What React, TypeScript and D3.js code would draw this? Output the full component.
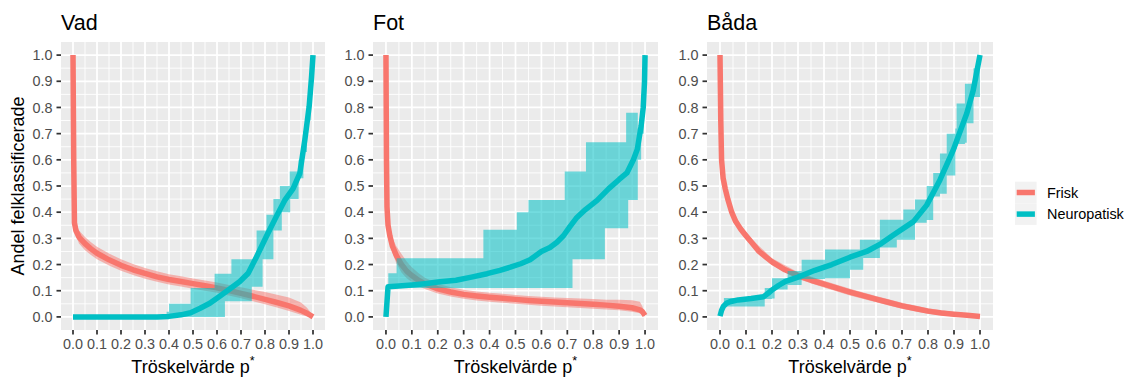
import * as d3 from 'd3';

type Pt = [number, number];
type Band = [number, number, number];

// facets, series and axis labels
const panelTitles = ['Vad', 'Fot', 'Båda'];
const seriesNames = ['Frisk', 'Neuropatisk'];
const seriesColours = ['#F8766D', '#00BFC4'];
const tickValues = [0, 0.1, 0.2, 0.3, 0.4, 0.5, 0.6, 0.7, 0.8, 0.9, 1.0];
const tickLabels = ['0.0', '0.1', '0.2', '0.3', '0.4', '0.5', '0.6', '0.7', '0.8', '0.9', '1.0'];
const minorValues = [0.05, 0.15, 0.25, 0.35, 0.45, 0.55, 0.65, 0.75, 0.85, 0.95];
const xTitle = 'Tröskelvärde p';
const yTitle = 'Andel felklassificerade';

// Vad
const vadFrisk: Pt[] = [
  [0, 1.0], [0.003, 0.6], [0.006, 0.36], [0.012, 0.33], [0.025, 0.305], [0.05, 0.28],
  [0.075, 0.26], [0.1, 0.243], [0.15, 0.218], [0.2, 0.197], [0.25, 0.18], [0.3, 0.166],
  [0.35, 0.153], [0.4, 0.143], [0.45, 0.135], [0.5, 0.127], [0.55, 0.119], [0.6, 0.111],
  [0.65, 0.101], [0.7, 0.09], [0.75, 0.079], [0.8, 0.067], [0.85, 0.055], [0.9, 0.042],
  [0.95, 0.025], [0.975, 0.014], [1.0, 0.0],
];
const vadFriskBand: Band[] = [
  [0.008, 0.32, 0.37], [0.025, 0.28, 0.33], [0.05, 0.255, 0.305], [0.075, 0.236, 0.285],
  [0.1, 0.22, 0.268], [0.15, 0.196, 0.242], [0.2, 0.176, 0.22], [0.25, 0.16, 0.202],
  [0.3, 0.146, 0.187], [0.35, 0.134, 0.174], [0.4, 0.124, 0.163], [0.45, 0.116, 0.155],
  [0.5, 0.108, 0.147], [0.55, 0.1, 0.139], [0.6, 0.092, 0.131], [0.65, 0.082, 0.122],
  [0.7, 0.071, 0.113], [0.75, 0.06, 0.104], [0.8, 0.048, 0.095], [0.85, 0.036, 0.085],
  [0.9, 0.023, 0.074], [0.95, 0.008, 0.055], [0.975, 0.002, 0.035], [1.0, 0, 0.005],
];
const vadNeuro: Pt[] = [
  [0, 0], [0.35, 0], [0.4, 0.002], [0.45, 0.008], [0.49, 0.016], [0.53, 0.033],
  [0.57, 0.052], [0.61, 0.078], [0.65, 0.105], [0.695, 0.135], [0.73, 0.167],
  [0.765, 0.23], [0.806, 0.308], [0.848, 0.385], [0.882, 0.445], [0.917, 0.49],
  [0.945, 0.548], [0.966, 0.676], [0.984, 0.804], [0.994, 0.917], [1.0, 1.0],
];
const vadNeuroBand: Band[] = [
  [0.39, 0, 0.02], [0.4, 0, 0.05], [0.49, 0, 0.11], [0.59, 0, 0.165], [0.633, 0.06, 0.165],
  [0.66, 0.06, 0.22], [0.745, 0.115, 0.22], [0.765, 0.115, 0.33], [0.79, 0.22, 0.33],
  [0.806, 0.22, 0.39], [0.835, 0.33, 0.45], [0.862, 0.33, 0.5], [0.87, 0.4, 0.5],
  [0.903, 0.4, 0.555], [0.905, 0.45, 0.555], [0.94, 0.53, 0.6], [0.96, 0.63, 0.71],
  [0.975, 0.75, 0.83], [0.99, 0.9, 0.95], [1.0, 1.0, 1.0],
];

// Fot
const fotFrisk: Pt[] = [
  [0, 1.0], [0.002, 0.6], [0.004, 0.42], [0.008, 0.35], [0.015, 0.31], [0.025, 0.27],
  [0.04, 0.235], [0.06, 0.2], [0.08, 0.175], [0.1, 0.158], [0.125, 0.14], [0.15, 0.127],
  [0.2, 0.107], [0.25, 0.095], [0.3, 0.086], [0.35, 0.08], [0.4, 0.075], [0.45, 0.071],
  [0.5, 0.067], [0.55, 0.063], [0.6, 0.06], [0.65, 0.057], [0.7, 0.054], [0.75, 0.051],
  [0.8, 0.048], [0.85, 0.045], [0.9, 0.041], [0.95, 0.035], [0.98, 0.027], [0.99, 0.02],
  [1.0, 0.005],
];
const fotFriskBand: Band[] = [
  [0.008, 0.33, 0.38], [0.015, 0.285, 0.34], [0.025, 0.245, 0.3], [0.04, 0.205, 0.27],
  [0.06, 0.17, 0.24], [0.08, 0.148, 0.212], [0.1, 0.133, 0.19], [0.125, 0.118, 0.168],
  [0.15, 0.107, 0.15], [0.2, 0.089, 0.127], [0.25, 0.078, 0.113], [0.3, 0.069, 0.104],
  [0.35, 0.063, 0.097], [0.4, 0.058, 0.092], [0.45, 0.054, 0.088], [0.5, 0.05, 0.084],
  [0.55, 0.046, 0.08], [0.6, 0.043, 0.077], [0.65, 0.04, 0.074], [0.7, 0.037, 0.072],
  [0.75, 0.034, 0.07], [0.8, 0.031, 0.068], [0.85, 0.028, 0.066], [0.9, 0.025, 0.066],
  [0.95, 0.02, 0.064], [0.98, 0.014, 0.058], [0.99, 0.008, 0.04], [1.0, 0.002, 0.01],
];
const fotNeuro: Pt[] = [
  [0, 0], [0.008, 0.115], [0.05, 0.118], [0.1, 0.122], [0.15, 0.127], [0.2, 0.133],
  [0.27, 0.14], [0.33, 0.152], [0.39, 0.165], [0.44, 0.178], [0.48, 0.19], [0.52, 0.203],
  [0.556, 0.218], [0.6, 0.25], [0.633, 0.265], [0.66, 0.285], [0.685, 0.31], [0.71, 0.345],
  [0.737, 0.38], [0.77, 0.41], [0.815, 0.445], [0.86, 0.49], [0.9, 0.525], [0.93, 0.55],
  [0.955, 0.6], [0.97, 0.64], [0.985, 0.73], [0.993, 0.8], [0.998, 0.9], [1.0, 1.0],
];
const fotNeuroBand: Band[] = [
  [0.009, 0.11, 0.167], [0.041, 0.11, 0.224], [0.376, 0.11, 0.333], [0.505, 0.11, 0.4],
  [0.55, 0.11, 0.447], [0.69, 0.11, 0.555], [0.72, 0.22, 0.555], [0.772, 0.22, 0.667],
  [0.845, 0.339, 0.667], [0.927, 0.339, 0.78], [0.935, 0.447, 0.78], [0.972, 0.6, 0.72],
  [0.985, 0.7, 0.85], [0.995, 0.85, 1.0], [1.0, 1.0, 1.0],
];

// Båda
const badaFrisk: Pt[] = [
  [0, 1.0], [0.003, 0.75], [0.006, 0.6], [0.012, 0.53], [0.02, 0.49], [0.03, 0.45],
  [0.045, 0.4], [0.06, 0.365], [0.08, 0.335], [0.1, 0.31], [0.125, 0.28], [0.15, 0.25],
  [0.2, 0.21], [0.25, 0.18], [0.3, 0.158], [0.35, 0.14], [0.4, 0.125], [0.45, 0.11],
  [0.5, 0.095], [0.55, 0.081], [0.6, 0.068], [0.65, 0.055], [0.7, 0.042], [0.75, 0.032],
  [0.8, 0.022], [0.85, 0.015], [0.9, 0.01], [0.95, 0.006], [1.0, 0.002],
];
const badaFriskBand: Band[] = [
  [0.006, 0.585, 0.615], [0.02, 0.475, 0.505], [0.045, 0.385, 0.415], [0.08, 0.32, 0.35],
  [0.125, 0.266, 0.295], [0.2, 0.197, 0.224], [0.3, 0.145, 0.171], [0.4, 0.112, 0.138],
  [0.5, 0.082, 0.108], [0.6, 0.056, 0.08], [0.7, 0.031, 0.054], [0.8, 0.012, 0.033],
  [0.9, 0.002, 0.019], [1.0, 0, 0.007],
];
const badaNeuro: Pt[] = [
  [0, 0.003], [0.006, 0.025], [0.013, 0.04], [0.025, 0.052], [0.038, 0.058], [0.07, 0.065],
  [0.12, 0.07], [0.167, 0.077], [0.185, 0.09], [0.2, 0.103], [0.225, 0.12], [0.25, 0.135],
  [0.3, 0.152], [0.365, 0.178], [0.43, 0.2], [0.5, 0.228], [0.564, 0.25], [0.62, 0.28],
  [0.667, 0.313], [0.744, 0.364], [0.795, 0.427], [0.846, 0.523], [0.897, 0.637],
  [0.949, 0.777], [0.974, 0.866], [1.0, 1.0],
];
const badaNeuroBand: Band[] = [
  [0.015, 0.04, 0.072], [0.172, 0.068, 0.11], [0.2, 0.07, 0.148], [0.21, 0.105, 0.148],
  [0.26, 0.122, 0.175], [0.314, 0.145, 0.218], [0.404, 0.148, 0.257], [0.5, 0.18, 0.257],
  [0.538, 0.18, 0.295], [0.551, 0.225, 0.295], [0.615, 0.265, 0.371], [0.68, 0.295, 0.371],
  [0.705, 0.295, 0.41], [0.75, 0.36, 0.448], [0.795, 0.37, 0.5], [0.82, 0.46, 0.55],
  [0.846, 0.47, 0.624], [0.872, 0.54, 0.7], [0.905, 0.64, 0.72], [0.91, 0.66, 0.815],
  [0.942, 0.665, 0.891], [0.949, 0.74, 0.891], [0.975, 0.84, 0.95], [1.0, 1.0, 1.0],
];

const panelData = [
  { frisk: vadFrisk, friskBand: vadFriskBand, neuro: vadNeuro, neuroBand: vadNeuroBand },
  { frisk: fotFrisk, friskBand: fotFriskBand, neuro: fotNeuro, neuroBand: fotNeuroBand },
  { frisk: badaFrisk, friskBand: badaFriskBand, neuro: badaNeuro, neuroBand: badaNeuroBand },
];

// layout
const W = 1132;
const H = 378;
const TOP = 42;
const BOTTOM = 330;
const panelEdges = [
  { left: 61, right: 325 },
  { left: 373, right: 658 },
  { left: 707, right: 993 },
];
const FONT = '"Liberation Sans", Arial, Helvetica, sans-serif';

function Panel({ idx }: { idx: number }) {
  const { left, right } = panelEdges[idx];
  const d = panelData[idx];

  const x = d3.scaleLinear().domain([-0.05, 1.05]).range([left, right]);
  const y = d3.scaleLinear().domain([-0.05, 1.05]).range([BOTTOM, TOP]);

  const line = d3.line<Pt>()
    .x(p => x(p[0]))
    .y(p => y(p[1]));

  // jagged confidence band for Frisk
  const smoothBand = d3.area<Band>()
    .x(p => x(p[0]))
    .y0(p => y(p[1]))
    .y1(p => y(p[2]));

  // stepped confidence band for Neuropatisk
  const stepBand = d3.area<Band>()
    .curve(d3.curveStepAfter)
    .x(p => x(p[0]))
    .y0(p => y(p[1]))
    .y1(p => y(p[2]));

  const cx = (left + right) / 2;

  return (
    <g>
      <text x={left} y={29.5} fontSize={21.5} fill="black">{panelTitles[idx]}</text>

      <rect x={left} y={TOP} width={right - left} height={BOTTOM - TOP} fill="#EBEBEB" />

      {minorValues.map(v => (
        <g key={'m' + v}>
          <line x1={x(v)} x2={x(v)} y1={TOP} y2={BOTTOM} stroke="white" strokeWidth={0.9} />
          <line x1={left} x2={right} y1={y(v)} y2={y(v)} stroke="white" strokeWidth={0.9} />
        </g>
      ))}
      {tickValues.map(v => (
        <g key={'M' + v}>
          <line x1={x(v)} x2={x(v)} y1={TOP} y2={BOTTOM} stroke="white" strokeWidth={1.75} />
          <line x1={left} x2={right} y1={y(v)} y2={y(v)} stroke="white" strokeWidth={1.75} />
        </g>
      ))}

      <path d={smoothBand(d.friskBand) || ''} fill={seriesColours[0]} fillOpacity={0.5} />
      <path d={line(d.frisk) || ''} fill="none" stroke={seriesColours[0]} strokeWidth={5.5} strokeLinejoin="round" />
      <path d={stepBand(d.neuroBand) || ''} fill={seriesColours[1]} fillOpacity={0.55} />
      <path d={line(d.neuro) || ''} fill="none" stroke={seriesColours[1]} strokeWidth={5.5} strokeLinejoin="round" />

      {tickValues.map((v, i) => (
        <g key={'y' + v}>
          <line x1={left - 4.5} x2={left} y1={y(v)} y2={y(v)} stroke="#333333" strokeWidth={1.75} />
          <text x={left - 8.5} y={y(v)} dy="0.36em" textAnchor="end" fontSize={14.4} fill="#4D4D4D">
            {tickLabels[i]}
          </text>
        </g>
      ))}
      {tickValues.map((v, i) => (
        <g key={'x' + v}>
          <line x1={x(v)} x2={x(v)} y1={BOTTOM} y2={BOTTOM + 4.5} stroke="#333333" strokeWidth={1.75} />
          <text x={x(v)} y={349} textAnchor="middle" fontSize={14.4} fill="#4D4D4D">
            {tickLabels[i]}
          </text>
        </g>
      ))}

      <text x={cx} y={373} textAnchor="middle" fontSize={18} fill="black">
        <tspan>{xTitle}</tspan>
        <tspan dy={-8} fontSize={12.6}>*</tspan>
      </text>
    </g>
  );
}

export default function App() {
  return (
    <svg
      width={W}
      height={H}
      style={{ position: 'absolute', left: 0, top: 0, background: 'white' }}
      fontFamily={FONT}
    >
      <rect width={W} height={H} fill="white" />
      {panelTitles.map((_, i) => <Panel key={i} idx={i} />)}

      <text
        transform={`translate(23.5,${(TOP + BOTTOM) / 2}) rotate(-90)`}
        textAnchor="middle"
        fontSize={18}
        fill="black"
      >
        {yTitle}
      </text>

      {seriesNames.map((name, i) => (
        <g key={name} transform={`translate(1015,${181.7 + i * 21.6})`}>
          <rect width={21.6} height={21.6} fill="#F2F2F2" />
          <line x1={1.7} x2={19.9} y1={10.8} y2={10.8} stroke={seriesColours[i]} strokeWidth={5.5} />
          <text x={32} y={10.8} dy="0.36em" fontSize={14.4} fill="black">{name}</text>
        </g>
      ))}
    </svg>
  );
}
